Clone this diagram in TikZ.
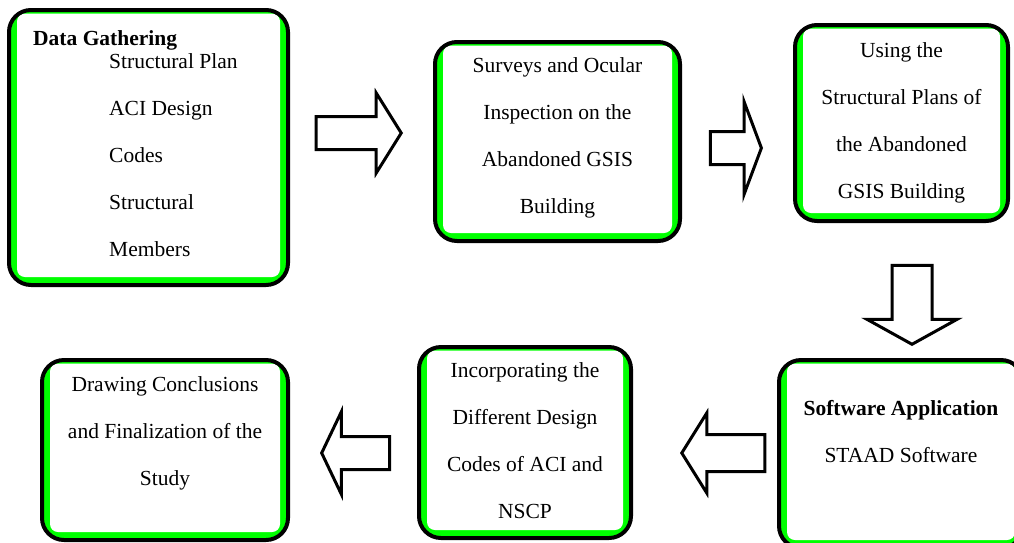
\documentclass[tikz,border=0pt]{standalone}
\usepackage{fontspec}
\setmainfont{Liberation Serif}
\usepackage{xcolor}
\usepackage{tikz}
\usetikzlibrary{positioning,shapes.arrows}
\definecolor{lining}{HTML}{00FF00}
\definecolor{edge}{HTML}{000000}

\begin{document}
\begin{tikzpicture}[
        x=1pt, y=-1pt,
        stage/.style={
            rectangle,
            draw=edge,
            line width=4pt,
            fill=lining,
            rounded corners=22pt,
            inner sep=0pt,
            path picture={
                \fill[white, rounded corners=8pt]
                    ([xshift=8pt,yshift=8pt]path picture bounding box.south west)
                    rectangle ([xshift=-8pt,yshift=-3.5pt]path picture bounding box.north east);
            }
        },
        txt/.style={
            inner sep=0pt,
            align=center,
            font=\fontsize{21.5pt}{47pt}\selectfont
        },
        head/.style={
            txt,
            font=\fontsize{21.5pt}{47pt}\selectfont\bfseries
        },
        blockarrow/.style={
            single arrow,
            draw=edge,
            line width=3pt,
            fill=white,
            inner xsep=0pt,
            minimum width=1pt,
            single arrow head indent=0pt,
            anchor=tip
        }
    ]
        \clip (0,0) rectangle (1014,542);

        % Top row
        \node[stage, minimum width=279pt, minimum height=275pt] (gather) at (148.5,147.5) {};
        \node[stage, minimum width=245pt, minimum height=199pt] (survey) at (557.5,141.5) {};
        \node[stage, minimum width=213pt, minimum height=196pt] (plans) at (901.5,123) {};

        % Bottom row
        \node[stage, minimum width=244pt, minimum height=188pt] (software) at (901,454) {};
        \node[stage, minimum width=212pt, minimum height=191pt] (codes) at (525,442.5) {};
        \node[stage, minimum width=246pt, minimum height=180pt] (finish) at (165,450) {};

        % Texts
        \node[head, anchor=west] (gather-h) at (33,40) {Data Gathering};
        \node[txt, align=left, anchor=west] (gather-t) at (109,155.5)
            {Structural Plan\\ACI Design\\Codes\\Structural\\Members};
        \node[txt] (survey-t) at (557.5,137.5)
            {Surveys and Ocular\\Inspection on the\\Abandoned GSIS\\Building};
        \node[txt] (plans-t) at (901.5,122.5)
            {Using the\\Structural Plans of\\the Abandoned\\GSIS Building};
        \node[txt] (software-t) at (901,431.5)
            {\textbf{Software Application}\\STAAD Software};
        \node[txt] (codes-t) at (525,440.5)
            {Incorporating the\\Different Design\\Codes of ACI and\\NSCP};
        \node[txt] (finish-t) at (165,433)
            {Drawing Conclusions\\and Finalization of the\\Study};

        % Block arrows
        \node[blockarrow, inner ysep=15pt, single arrow head extend=23.5pt,
              single arrow tip angle=116, minimum height=85pt] (a1) at (403,133) {};
        \node[blockarrow, inner ysep=15pt, single arrow head extend=30pt,
              single arrow tip angle=139, minimum height=51pt] (a2) at (763,148) {};
        \node[blockarrow, inner xsep=18.5pt, inner ysep=0pt, single arrow head extend=25pt,
              single arrow tip angle=122, minimum height=79pt,
              shape border rotate=270] (a3) at (912,346) {};
        \node[blockarrow, inner ysep=17pt, single arrow head extend=21.5pt,
              single arrow tip angle=116, minimum height=83pt,
              shape border rotate=180] (a4) at (680,453) {};
        \node[blockarrow, inner ysep=15pt, single arrow head extend=25pt,
              single arrow tip angle=129, minimum height=68pt,
              shape border rotate=180] (a5) at (320,453) {};

    \end{tikzpicture}
\end{document}
